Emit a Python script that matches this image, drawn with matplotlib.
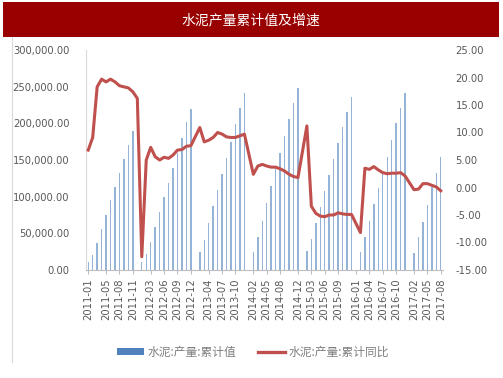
import numpy as np
import matplotlib
matplotlib.use("Agg")
import matplotlib.pyplot as plt
from matplotlib.patches import Rectangle, Patch
from matplotlib.lines import Line2D

plt.rcParams['font.family'] = ['DejaVu Sans', 'Noto Sans CJK SC']

# categories: every month 2011-01 .. 2017-08
months = [f"{y}-{m:02d}" for y in range(2011, 2018) for m in range(1, 13)][:80]

# cumulative output (10k t), None = not published
cum_value = [
    11400, 20500, 37300, 55500, 75500, 95000, 113600, 132300, 151800, 170500, 189500, None,
    10500, 21800, 38600, 58600, 79500, 99500, 119000, 139000, 160000, 179500, 201800, 219000,
    None, 24000, 41000, 64000, 87000, 109500, 131400, 152300, 175000, 199000, 220500, 242000,
    None, 24000, 44500, 67000, 91000, 115000, 138600, 159000, 182700, 206000, 228000, 248600,
    None, 26400, 42300, 63600, 86400, 108000, 129500, 151800, 172700, 195500, 216000, 235500,
    None, 24500, 44500, 66800, 89500, 111400, 133000, 153600, 177000, 200000, 221000, 241000,
    None, 23600, 44500, 66000, 88600, 112700, 131800, 153600,
]

# cumulative yoy growth (%)
cum_yoy = [
    6.8, 9.1, 18.3, 19.7, 19.2, 19.7, 19.2, 18.5, 18.3, 18.1, 17.4, 16.2,
    -12.6, 5.0, 7.3, 5.6, 5.0, 5.5, 5.3, 5.9, 6.8, 6.9, 7.5, 7.6,
    None, 10.9, 8.3, 8.6, 9.1, 10.0, 9.7, 9.2, 9.1, 9.1, 9.4, 9.7,
    None, 2.4, 3.9, 4.2, 3.9, 3.7, 3.7, 3.4, 3.0, 2.4, 2.0, 1.8,
    None, 11.2, -3.4, -4.7, -5.2, -5.3, -5.0, -5.0, -4.6, -4.8, -4.9, -4.9,
    None, -8.2, 3.5, 3.3, 3.8, 3.2, 2.7, 2.5, 2.6, 2.6, 2.7, 2.1,
    None, -0.4, -0.3, 0.7, 0.7, 0.4, 0.1, -0.6,
]

tick_months = ["2011-01", "2011-05", "2011-08", "2011-11", "2012-03", "2012-06", "2012-09",
               "2012-12", "2013-04", "2013-07", "2013-10", "2014-02", "2014-05", "2014-08",
               "2014-12", "2015-03", "2015-06", "2015-09", "2016-01", "2016-04", "2016-07",
               "2016-10", "2017-02", "2017-05", "2017-08"]

bar_name = "水泥:产量:累计值"
line_name = "水泥:产量:累计同比"
title = "水泥产量累计值及增速"

gray = "#595959"
blue = "#4F81BD"
red = "#C0504D"

fig = plt.figure(figsize=(5.03, 3.78), dpi=100)
W, H = 503, 378

# title band
fig.patches.append(Rectangle((3 / W, 1 - 37 / H), 496 / W, 35 / H, transform=fig.transFigure,
                             facecolor="#990000", edgecolor="none"))
fig.text(251 / W, 1 - 20 / H, title, color="white", fontsize=10, ha="center", va="center",
         family=["Noto Sans CJK SC"])
fig.lines.append(Line2D([12 / W, 12 / W], [1 - 37 / H, 1 - 362 / H], transform=fig.transFigure,
                        color="#D9D9D9", lw=0.8))

ax = fig.add_axes([86 / W, 1 - 270 / H, 357 / W, 220 / H])
x = np.arange(len(months))
bars = np.array([np.nan if v is None else v for v in cum_value], dtype=float)
ax.bar(x, np.nan_to_num(bars), width=0.32, color=blue, alpha=0.6, linewidth=0)
ax.set_xlim(-0.5, len(months) - 0.5)
ax.set_ylim(0, 300000)
ax.set_yticks(np.arange(0, 300001, 50000))
ax.set_yticklabels([f"{v:,.2f}" for v in np.arange(0, 300001, 50000)])
ax.set_xticks([months.index(m) for m in tick_months])
ax.set_xticklabels(tick_months, rotation=90)
ax.tick_params(axis="y", colors=gray, labelsize=7.2, length=0, pad=12)
ax.tick_params(axis="x", colors="#BFBFBF", labelcolor=gray, labelsize=7.2, length=3, pad=3)
for s in ["top", "right"]:
    ax.spines[s].set_visible(False)
ax.spines["left"].set_color("#D9D9D9")
ax.spines["bottom"].set_color("#BFBFBF")

ax2 = ax.twinx()
yoy = np.array([np.nan if v is None else v for v in cum_yoy], dtype=float)
ok = ~np.isnan(yoy)
ax2.plot(x[ok], yoy[ok], color=red, lw=2.2, solid_joinstyle="round")
ax2.set_ylim(-15, 25)
ax2.set_yticks(np.arange(-15, 26, 5))
ax2.set_yticklabels([f"{v:.2f}" for v in np.arange(-15, 26, 5)])
ax2.tick_params(axis="y", colors=gray, labelsize=7.2, length=0, pad=9)
for s in ["top", "right", "left", "bottom"]:
    ax2.spines[s].set_visible(False)

handles = [Patch(facecolor=blue, edgecolor="none"), Line2D([], [], color=red, lw=2.4)]
leg = fig.legend(handles, [bar_name, line_name], loc="center", bbox_to_anchor=(253 / W, 1 - 352 / H),
                 ncol=2, frameon=False, handlelength=2.3, handleheight=0.5,
                 columnspacing=1.8, handletextpad=0.3, prop={"family": ["Noto Sans CJK SC"], "size": 8.5})
for t in leg.get_texts():
    t.set_color("#7F7F7F")

fig.savefig("out.png", dpi=100)
